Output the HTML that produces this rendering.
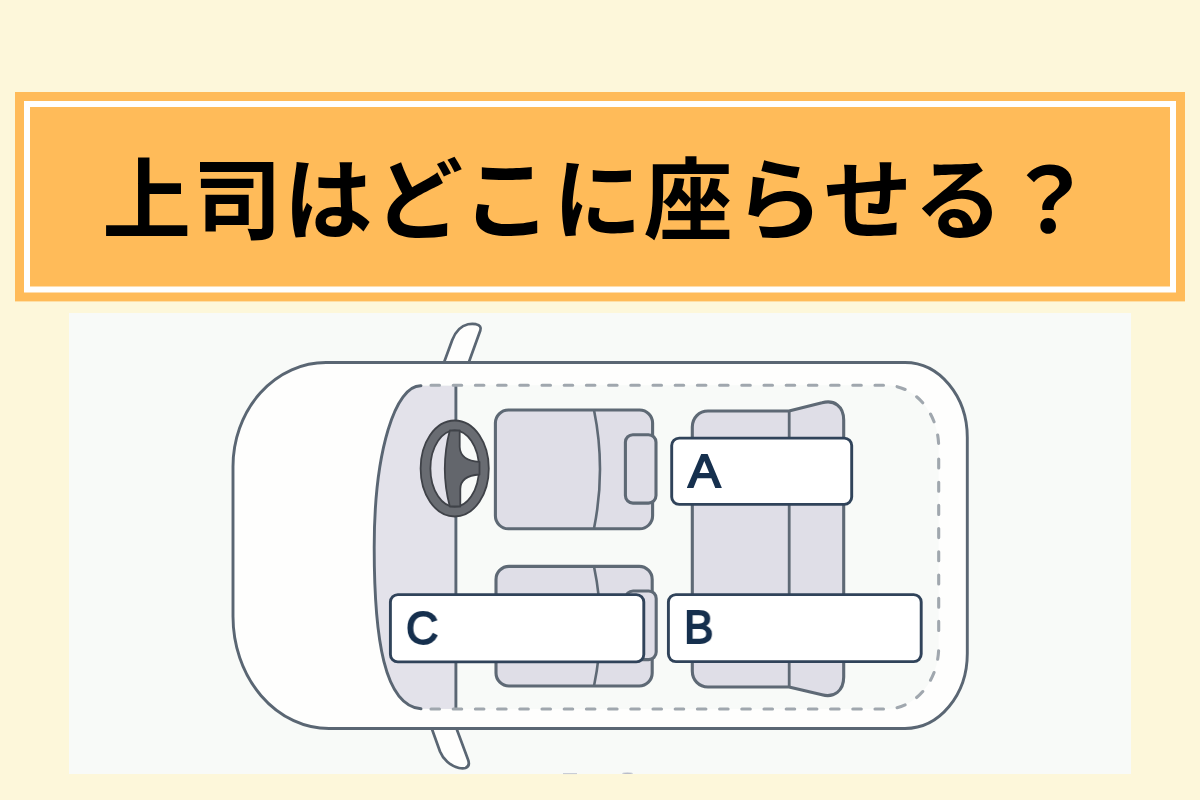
<!DOCTYPE html>
<html lang="ja">
<head>
<meta charset="utf-8">
<title>上司はどこに座らせる？</title>
<style>
html,body{margin:0;padding:0;}
body{width:1200px;height:800px;overflow:hidden;background:#FDF7DA;position:relative;font-family:"Liberation Sans","Noto Sans CJK JP",sans-serif;}
.title{position:absolute;left:-1.1px;top:157.4px;width:1200px;height:90px;line-height:90px;font-size:88.8px;font-weight:700;color:#000;text-align:center;white-space:nowrap;letter-spacing:1.9px;font-family:"Liberation Sans","Noto Sans CJK JP",sans-serif;margin:0;}
.art{position:absolute;left:0;top:0;width:1200px;height:800px;}
.lbl{position:absolute;font-family:"Liberation Sans",sans-serif;font-weight:400;font-size:47px;line-height:47px;height:47px;color:#16304E;-webkit-text-stroke:1.8px #16304E;transform-origin:0 0;white-space:nowrap;will-change:transform;}
</style>
</head>
<body>
<svg class="art" viewBox="0 0 1200 800" width="1200" height="800">
  <!-- title banner -->
  <rect x="15" y="92" width="1170" height="209.4" fill="#FFBB59"/>
  <path d="M24,101 H1176 V292.5 H24 Z M30,107 V286.6 H1170 V107 Z" fill="#FFFFFF" fill-rule="evenodd"/>
  <!-- picture background -->
  <rect x="69" y="313" width="1062" height="461" fill="#F8FAF8"/>
  <rect x="563" y="773.1" width="14" height="1" fill="#C4C8D2"/>
  <ellipse cx="627.5" cy="773.3" rx="5.5" ry="0.7" fill="#B9BDC9"/>
  <!-- mirrors -->
  <path d="M444,362.5 L452.25,340 C455,333 460,326 468,324.3 Q472,323.5 476,324.2 Q482,325.5 480.3,330.5 L468.75,362.5 Z" fill="#FEFEFD" stroke="#5A6673" stroke-width="2.7" stroke-linejoin="round"/>
  <path d="M431.75,728.5 L440,751.5 C443,759 450,766 459,768 Q463,768.8 465.5,768 Q470.5,766 468,759.5 L456.5,728.5 Z" fill="#FEFEFD" stroke="#5A6673" stroke-width="2.7" stroke-linejoin="round"/>
  <!-- car body -->
  <path d="M326,362.5 L905,362.5 A62.3,75 0 0 1 967.3,437.5 L967.3,653.5 A62.3,75 0 0 1 905,728.5 L329,728.5 A96,112 0 0 1 233,616.5 L233,466.5 A93,104 0 0 1 326,362.5 Z" fill="#FEFEFD" stroke="#5A6673" stroke-width="2.9"/>
  <!-- cabin -->
  <path d="M421,385.3 L886.2,385.3 A52.5,62 0 0 1 938.7,447.3 L938.7,647 A52.5,62 0 0 1 886.2,709 L421,709 Z" fill="#F8FAF8"/>
  <!-- windshield -->
  <path d="M421,385.8 C395.5,385 374.2,450.5 374.2,547.4 C374.2,639 384.4,705.7 421,708.8 L455.5,709 L455.5,385.8 Z" fill="#E3E2EA"/>
  <path d="M421,385.8 C395.5,385 374.2,450.5 374.2,547.4 C374.2,639 384.4,705.7 421,708.8" fill="none" stroke="#5A6673" stroke-width="2.9" stroke-linecap="round"/>
  <path d="M455.9,386 L455.9,709" fill="none" stroke="#5A6673" stroke-width="2.9"/>
  <!-- dashed cabin outline -->
  <g fill="none" stroke="#A0A7AE" stroke-width="3.1" stroke-linecap="round">
    <path d="M431,385.3 L886.2,385.3 A52.5,62 0 0 1 938.7,447.3" stroke-dasharray="8.5 13.7"/>
    <path d="M938.7,459 L938.7,640" stroke-dasharray="9 14.2"/>
    <path d="M431,709 L886.2,709 A52.5,62 0 0 0 938.7,647" stroke-dasharray="8.5 13.7"/>
  </g>
  <!-- driver seat -->
  <rect x="495.4" y="410" width="157.2" height="118.8" rx="13" ry="13" fill="#DFDEE7" stroke="#5E6975" stroke-width="3.1"/>
  <path d="M594,410 Q606,469 594,528.5" fill="none" stroke="#5E6975" stroke-width="2.6"/>
  <rect x="625.4" y="434.7" width="30.6" height="68.4" rx="7.5" ry="7.5" fill="#DFDEE7" stroke="#5E6975" stroke-width="3.1"/>
  <!-- passenger seat -->
  <rect x="496" y="566.4" width="156.2" height="119.6" rx="13" ry="13" fill="#DFDEE7" stroke="#5E6975" stroke-width="3.1"/>
  <path d="M594,566.5 Q606.5,626 594,686" fill="none" stroke="#5E6975" stroke-width="2.6"/>
  <rect x="625.6" y="591" width="30.6" height="68.6" rx="7.5" ry="7.5" fill="#DFDEE7" stroke="#5E6975" stroke-width="3.1"/>
  <!-- rear seat -->
  <path d="M708,411 L789,411 L822,402.8 C834,399.5 843.7,406 843.7,420 L843.7,677 C843.7,691 834,698 822,694.8 L789,687 L708,687 C699,687 692.3,680 692.3,671 L692.3,427 C692.3,418 699,411 708,411 Z" fill="#DFDEE7" stroke="#5E6975" stroke-width="3.1" stroke-linejoin="round"/>
  <path d="M789.2,411 L789.2,687" fill="none" stroke="#5E6975" stroke-width="2.8"/>
  <!-- steering wheel -->
  <ellipse cx="454.7" cy="468.5" rx="29.2" ry="43.1" fill="none" stroke="#3F4248" stroke-width="11.6"/>
  <ellipse cx="454.7" cy="468.5" rx="29.2" ry="43.1" fill="none" stroke="#696C72" stroke-width="8"/>
  <path d="M449.8,430.5 L459.7,430.5 L459.7,447 C460,455 466,461 479.5,461.8 L479.5,474.5 C466,475.5 460.3,481 460.3,489 L460.3,506.5 L449.8,506.5 C446.5,494 444.8,482 444.8,469 C444.8,456 446.5,443 449.8,430.5 Z" fill="#63666C" stroke="#3F4248" stroke-width="1.8" stroke-linejoin="round"/>
  <!-- labels -->
  <rect x="671.7" y="438.1" width="180" height="66.3" rx="7.5" ry="7.5" fill="#FFFFFF" stroke="#30435A" stroke-width="2.9"/>
  <rect x="668.4" y="594.6" width="252.8" height="67" rx="7.5" ry="7.5" fill="#FFFFFF" stroke="#30435A" stroke-width="2.9"/>
  <rect x="390.4" y="594.6" width="253.4" height="67.3" rx="7.5" ry="7.5" fill="#FFFFFF" stroke="#30435A" stroke-width="2.9"/>


</svg>
<h1 class="title">上司はどこに座らせる？</h1>
<div class="lbl" style="left:687.8px;top:446.5px;transform:scaleX(1.04)">A</div>
<div class="lbl" style="left:683.8px;top:603.1px;transform:scaleX(0.94)">B</div>
<div class="lbl" style="left:405.5px;top:603.6px;transform:scaleX(0.95)">C</div>
</body>
</html>
